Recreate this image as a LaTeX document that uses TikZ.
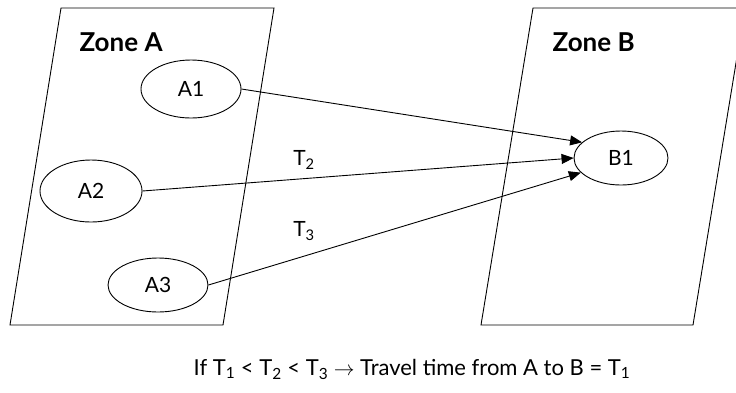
\documentclass[tikz,border=0pt]{standalone}
\usepackage{fontspec}
\setmainfont{Lato}
\usetikzlibrary{shapes.geometric,arrows.meta}

\begin{document}
\begin{tikzpicture}[x=1pt, y=-1pt, every node/.style={font=\fontsize{21}{24}\selectfont},
    zone/.style={draw, line width=0.9pt, line join=miter},
    spot/.style={draw, ellipse, line width=0.9pt, inner sep=0pt},
    link/.style={-{Triangle[length=12pt, width=10pt]}, line width=0.9pt}]
        \clip (0,0) rectangle (736,392);
        % Zones
        \draw[zone] (61,8) -- (274,8) -- (223,325) -- (10,325) -- cycle;
        \draw[zone] (533,8) -- (745,8) -- (693,325) -- (481,325) -- cycle;
        \node[font=\fontsize{26}{28}\selectfont\bfseries, anchor=west] (zna) at (76,42) {Zone A};
        \node[font=\fontsize{26}{28}\selectfont\bfseries, anchor=west] (znb) at (549,42) {Zone B};

        % Places
        \node[spot, minimum width=100pt, minimum height=58pt] (a1) at (191,89) {A1};
        \node[spot, minimum width=102pt, minimum height=62pt] (a2) at (91,191) {A2};
        \node[spot, minimum width=100pt, minimum height=54pt] (a3) at (158,285) {A3};
        \node[spot, minimum width=94pt, minimum height=54pt] (b1) at (621,158) {B1};

        % Travel times
        \node (t2) at (304,160) {T\textsubscript{2}};
        \node (t3) at (304,231) {T\textsubscript{3}};

        \draw[link] (a1.east) -- (b1.158);
        \draw[link] (a2.east) -- (b1.west);
        \draw[link] (a3.east) -- (b1.200);

        \node[font=\fontsize{22}{25}\selectfont] (rule) at (412,369) {If T\textsubscript{1} < T\textsubscript{2} < T\textsubscript{3} $\rightarrow$ Travel time from A to B = T\textsubscript{1}};
    \end{tikzpicture}
\end{document}
